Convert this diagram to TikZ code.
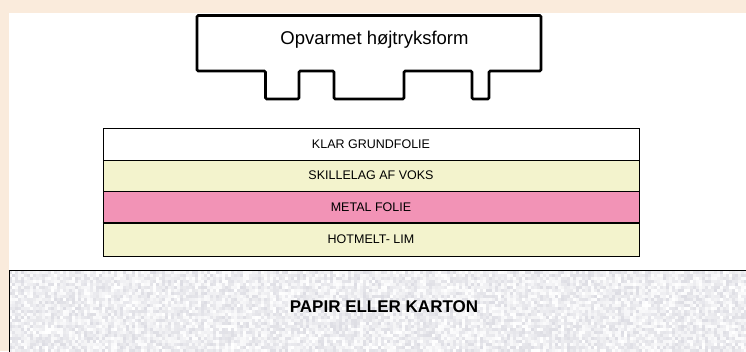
\documentclass[tikz,border=0pt]{standalone}
\usepackage{fontspec}
\setmainfont{Liberation Sans}
\definecolor{cream}{HTML}{FAEBDC}
\definecolor{waxyellow}{HTML}{F3F3CD}
\definecolor{metalpink}{HTML}{F293B6}
\definecolor{paperbase}{HTML}{ECECEF}
\definecolor{paperfleck}{HTML}{B9B9C6}
\tikzset{
  formline/.style={line width=2.6pt, rounded corners=1.2pt, fill=white},
  formtext/.style={font=\fontsize{18.5}{20}\selectfont, inner sep=0pt},
  layer/.style={draw=black, line width=0.9pt, minimum width=536pt,
    inner sep=0pt, font=\fontsize{12.5}{14}\selectfont},
  papertext/.style={font=\fontsize{17}{19}\selectfont\bfseries, inner sep=0pt},
}
\begin{document}
\begin{tikzpicture}[x=1pt,y=-1pt]
\useasboundingbox (0,0) rectangle (746,351);
\clip (0,0) rectangle (746,351);
% page frame and white sheet
\fill[cream] (0,0) rectangle (746,351);
\fill[white] (8.5,12.5) rectangle (746,351);

% heated stamping die with its relief teeth
\draw[formline] (197,15.5) -- (541,15.5) -- (541,71) -- (489,71) -- (489,99)
  -- (472,99) -- (472,71) -- (404,71) -- (404,99) -- (334,99) -- (334,71)
  -- (299,71) -- (299,99) -- (265.5,99) -- (265.5,71) -- (197,71) -- cycle;
\node[formtext] (form) at (374.5,40) {Opvarmet højtryksform};

% foil layers
\node[layer, fill=white, minimum height=32pt] (klar) at (371,144) {KLAR GRUNDFOLIE};
\node[layer, fill=waxyellow, minimum height=31pt] (voks) at (371,175.5) {SKILLELAG AF VOKS};
\node[layer, fill=metalpink, minimum height=32pt] (metal) at (371,207) {METAL FOLIE};
\node[layer, fill=waxyellow, minimum height=33pt] (lim) at (371,239.5) {HOTMELT- LIM};
\draw[line width=2pt] (metal.south west) -- (metal.south east);

% paper / board substrate with grainy surface
\begin{scope}
  \clip (9.3,270.7) rectangle (746,351);
  \fill[paperbase] (9.3,270.7) rectangle (746,351);
  \pgfmathsetseed{4711}
  \foreach \i in {0,...,245} {
    \foreach \j in {0,...,26} {
      \pgfmathrandominteger{\r}{0}{48}
      \fill[paperfleck!\r!white] (9.3+3*\i,270.7+3*\j) rectangle ++(3,3);
    }
  }
\end{scope}
\draw[line width=1.4pt] (9.3,360) -- (9.3,270.7) -- (760,270.7);
\node[papertext] (paper) at (384,306.5) {PAPIR ELLER KARTON};
\end{tikzpicture}
\end{document}
